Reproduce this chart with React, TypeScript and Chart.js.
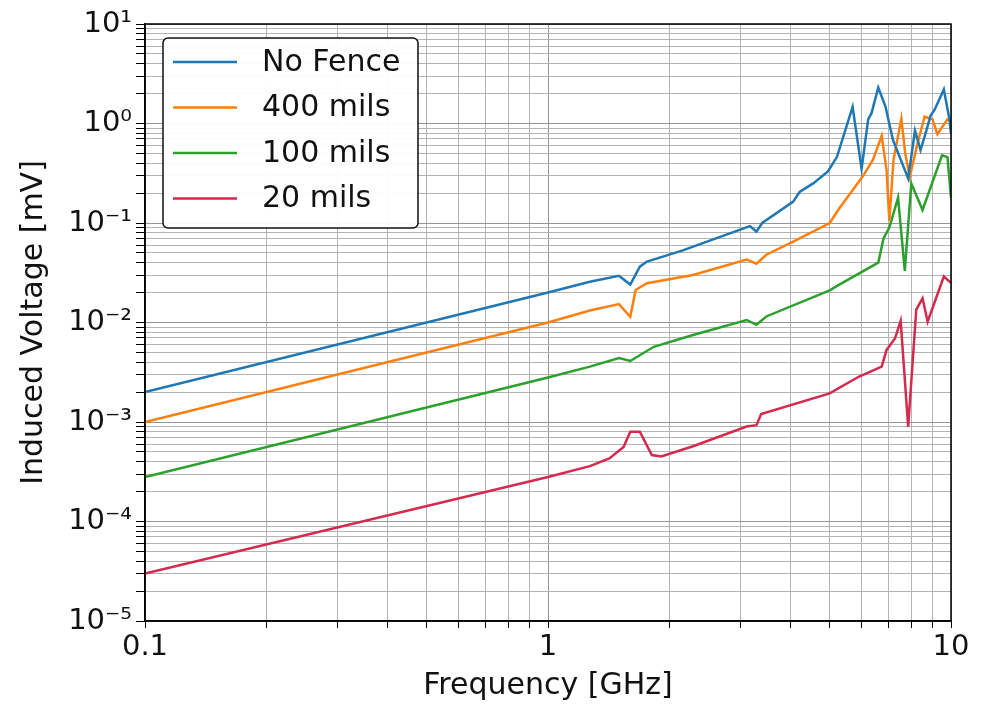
import React, { useEffect, useRef } from 'react';
import { Chart, registerables } from 'chart.js';

Chart.register(...registerables);

const FONT = '"DejaVu Sans", "Liberation Sans", sans-serif';

const seriesLabels = ['No Fence', '400 mils', '100 mils', '20 mils'];
const seriesColors = ['#1f77b4', '#ff7f0e', '#2ca02c', '#d42a4c'];

const noFenceFreq = [0.1, 1.0, 1.27, 1.5, 1.6, 1.69, 1.76, 2.16, 3.17, 3.29, 3.4, 4.06, 4.21, 4.55, 4.95, 5.21, 5.7, 6.0, 6.23, 6.35, 6.6, 6.88, 7.18, 7.83, 8.14, 8.4, 8.65, 8.9, 9.1, 9.6, 9.9, 10];
const noFenceVals = [0.002, 0.02, 0.0257, 0.0295, 0.0241, 0.0364, 0.041, 0.053, 0.093, 0.082, 0.1, 0.164, 0.205, 0.25, 0.33, 0.46, 1.47, 0.35, 1.1, 1.27, 2.3, 1.47, 0.68, 0.28, 0.85, 0.54, 0.8, 1.2, 1.37, 2.2, 1.13, 0.8];

const fence400Freq = [0.1, 1.0, 1.27, 1.5, 1.6, 1.65, 1.76, 2.29, 3.11, 3.29, 3.48, 4.06, 5.0, 5.28, 6.06, 6.4, 6.73, 6.92, 7.03, 7.2, 7.53, 7.7, 7.9, 8.25, 8.6, 9.0, 9.25, 9.8, 10];
const fence400Vals = [0.001, 0.01, 0.0132, 0.0153, 0.0114, 0.0212, 0.0248, 0.03, 0.043, 0.039, 0.048, 0.065, 0.1, 0.14, 0.3, 0.43, 0.75, 0.34, 0.105, 0.43, 1.12, 0.5, 0.29, 0.62, 1.17, 1.1, 0.78, 1.1, 1.05];

const fence100Freq = [0.1, 1.0, 1.27, 1.5, 1.6, 1.83, 2.29, 3.11, 3.29, 3.48, 5.0, 5.28, 6.6, 6.8, 7.03, 7.39, 7.68, 7.97, 8.5, 9.5, 9.8, 10];
const fence100Vals = [0.00028, 0.0028, 0.0036, 0.0044, 0.0041, 0.0057, 0.0075, 0.0106, 0.0095, 0.0115, 0.021, 0.024, 0.04, 0.07, 0.09, 0.18, 0.033, 0.25, 0.135, 0.48, 0.46, 0.18];

const fence20Freq = [0.1, 1.0, 1.27, 1.42, 1.54, 1.6, 1.69, 1.81, 1.91, 2.29, 3.11, 3.29, 3.38, 5.0, 5.9, 6.73, 6.92, 7.26, 7.5, 7.83, 8.2, 8.5, 8.75, 9.6, 10];
const fence20Vals = [0.00003, 0.00028, 0.00036, 0.00043, 0.00056, 0.0008, 0.0008, 0.000465, 0.00045, 0.00057, 0.0009, 0.00093, 0.0012, 0.00194, 0.00285, 0.0036, 0.0053, 0.0069, 0.0104, 0.0009, 0.0135, 0.0175, 0.0102, 0.029, 0.025];

const seriesFreqs = [noFenceFreq, fence400Freq, fence100Freq, fence20Freq];
const seriesVals = [noFenceVals, fence400Vals, fence100Vals, fence20Vals];

const xMajorTicks = [0.1, 1, 10];
const xMajorLabels = ['0.1', '1', '10'];
const yMajorTicks = [1e-5, 1e-4, 1e-3, 1e-2, 1e-1, 1, 10];
const yMajorLabels = ['10\u207B\u2075', '10\u207B\u2074', '10\u207B\u00B3', '10\u207B\u00B2', '10\u207B\u00B9', '10\u2070', '10\u00B9'];

const xTitle = 'Frequency [GHz]';
const yTitle = 'Induced Voltage [mV]';

const near = (a: number, b: number) => Math.abs(Math.log10(a) - Math.log10(b)) < 1e-6;

function logTicks(majors: number[]) {
  const out: number[] = [];
  for (let i = 0; i < majors.length; i++) {
    out.push(majors[i]);
    if (i < majors.length - 1) {
      for (let k = 2; k <= 9; k++) out.push(majors[i] * k);
    }
  }
  return out;
}

function labelFor(v: number, majors: number[], labels: string[]) {
  for (let i = 0; i < majors.length; i++) if (near(v, majors[i])) return labels[i];
  return '';
}

const isMajor = (v: number, majors: number[]) => majors.some((m) => near(v, m));

const framePlugin = {
  id: 'frame',
  afterDraw(chart: any) {
    const { ctx, chartArea } = chart;
    ctx.save();
    ctx.strokeStyle = '#000';
    ctx.lineWidth = 1.5;
    ctx.strokeRect(chartArea.left, chartArea.top, chartArea.right - chartArea.left, chartArea.bottom - chartArea.top);
    ctx.restore();
  },
};

const legendPlugin = {
  id: 'boxLegend',
  afterDatasetsDraw(chart: any) {
    const { ctx, chartArea } = chart;
    const x0 = chartArea.left + 18;
    const y0 = chartArea.top + 14;
    const w = 255;
    const h = 190;
    ctx.save();
    ctx.beginPath();
    ctx.roundRect(x0, y0, w, h, 5);
    ctx.fillStyle = 'rgba(255,255,255,0.95)';
    ctx.fill();
    ctx.strokeStyle = '#111';
    ctx.lineWidth = 1.5;
    ctx.stroke();
    chart.data.datasets.forEach((ds: any, i: number) => {
      const y = y0 + 24 + i * 45.5;
      ctx.beginPath();
      ctx.moveTo(x0 + 10, y);
      ctx.lineTo(x0 + 74, y);
      ctx.strokeStyle = ds.borderColor;
      ctx.lineWidth = 2.5;
      ctx.stroke();
      ctx.fillStyle = '#111';
      ctx.font = `30px ${FONT}`;
      ctx.textBaseline = 'middle';
      ctx.textAlign = 'left';
      ctx.fillText(ds.label, x0 + 99, y + 1);
    });
    ctx.restore();
  },
};

export default function App() {
  const ref = useRef<HTMLCanvasElement | null>(null);
  useEffect(() => {
    if (!ref.current) return;
    const datasets = seriesLabels.map((label, i) => ({
      label,
      data: seriesFreqs[i].map((f, j) => ({ x: f, y: seriesVals[i][j] })),
      borderColor: seriesColors[i],
      backgroundColor: seriesColors[i],
      borderWidth: 2.5,
      pointRadius: 0,
      tension: 0,
      fill: false,
    }));
    const gridColor = (majors: number[]) => (c: any) =>
      c.tick && isMajor(c.tick.value, majors) ? '#959595' : '#b4b4b4';
    const chart = new Chart(ref.current, {
      type: 'line',
      data: { datasets },
      plugins: [legendPlugin, framePlugin],
      options: {
        animation: false,
        responsive: false,
        devicePixelRatio: 1,
        layout: { padding: { left: 0, right: 30, top: 24, bottom: 0 } },
        plugins: { legend: { display: false }, tooltip: { enabled: false } },
        scales: {
          x: {
            type: 'logarithmic',
            min: 0.1,
            max: 10,
            afterBuildTicks: (s: any) => {
              s.ticks = logTicks(xMajorTicks).map((v) => ({ value: v }));
            },
            afterFit: (s: any) => {
              s.height = 83;
            },
            ticks: {
              autoSkip: false,
              maxRotation: 0,
              padding: 2,
              color: '#111',
              font: { size: 29, family: FONT },
              callback: (v: any) => labelFor(Number(v), xMajorTicks, xMajorLabels),
            },
            grid: {
              color: gridColor(xMajorTicks),
              lineWidth: 1,
              tickColor: '#000',
              tickLength: 7,
            },
            border: { display: true, color: '#000', width: 1.5 },
            title: {
              display: true,
              text: xTitle,
              color: '#111',
              font: { size: 30, family: FONT },
              padding: { top: 0, bottom: 0 },
            },
          },
          y: {
            type: 'logarithmic',
            min: 1e-5,
            max: 10,
            afterBuildTicks: (s: any) => {
              s.ticks = logTicks(yMajorTicks).map((v) => ({ value: v }));
            },
            afterFit: (s: any) => {
              s.width = 145;
            },
            ticks: {
              autoSkip: false,
              padding: 4,
              color: '#111',
              font: { size: 29, family: FONT },
              callback: (v: any) => labelFor(Number(v), yMajorTicks, yMajorLabels),
            },
            grid: {
              color: gridColor(yMajorTicks),
              lineWidth: 1,
              tickColor: '#000',
              tickLength: 9,
            },
            border: { display: true, color: '#000', width: 1.5 },
            title: {
              display: true,
              text: yTitle,
              color: '#111',
              font: { size: 30, family: FONT },
              padding: { top: 16, bottom: 0 },
            },
          },
        },
      },
    } as any);
    return () => chart.destroy();
  }, []);
  return (
    <div style={{ position: 'absolute', left: 0, top: 0, width: 981, height: 704, background: '#fff' }}>
      <canvas ref={ref} width={981} height={704} />
    </div>
  );
}
